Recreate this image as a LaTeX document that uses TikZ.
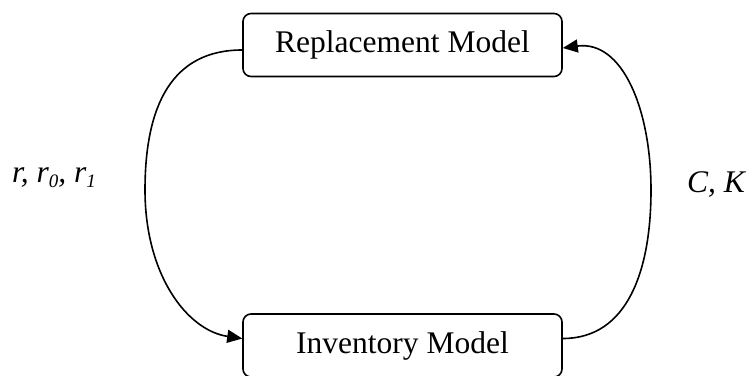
\documentclass[tikz,border=0pt]{standalone}
\usepackage{fontspec}
\setmainfont{Liberation Serif}
\usetikzlibrary{arrows.meta}
\newcommand{\mysub}[1]{\raisebox{-5pt}{\fontsize{19}{19}\selectfont\textit{#1}}}
\begin{document}
\begin{tikzpicture}[x=1pt,y=-1pt,
  modelbox/.style={draw,line width=1.6pt,rounded corners=8pt,minimum width=319pt,minimum height=63pt,inner sep=0pt,
    font=\fontsize{31.5}{36}\selectfont},
  flow/.style={line width=1.6pt,-{Triangle[length=15pt,width=13pt]}},
  lbl/.style={font=\fontsize{31.5}{36}\selectfont\itshape,inner sep=0pt,anchor=base west}]
\useasboundingbox (0,0) rectangle (746,375);
\node[modelbox] (rep) at (402.5,45) {Replacement Model};
\node[modelbox] (inv) at (402.5,345.5) {Inventory Model};
\coordinate (repL) at ([yshift=-5pt]rep.west);
\coordinate (invL) at ([yshift=7pt]inv.west);
\coordinate (invR) at ([yshift=7pt]inv.east);
\coordinate (repR) at ([yshift=-3pt]rep.east);
\draw[flow] (repL) .. controls +(-70,0) and +(0,-85) .. (145,190) .. controls +(0,85) and +(-55,-8) .. (invL);
\draw[flow] (invR) .. controls +(65,0) and +(0,80) .. (651,190) .. controls +(0,-80) and +(60,-8) .. (repR);
\node[lbl] (l1) at (12,182) {r, r\mysub{0}, r\mysub{1}};
\node[lbl] (l2) at (687,192) {C, K};
\end{tikzpicture}
\end{document}
